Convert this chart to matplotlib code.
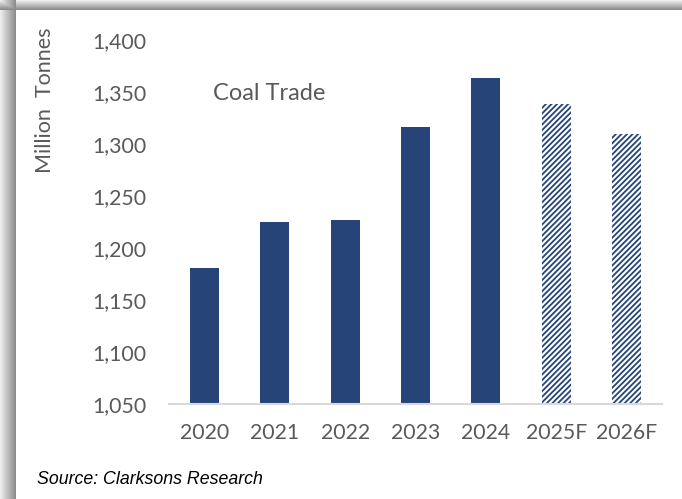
import matplotlib.pyplot as plt
import numpy as np

years = ['2020', '2021', '2022', '2023', '2024', '2025F', '2026F']
trade = [1181, 1225, 1227, 1316, 1363, 1338, 1310]
is_forecast = [False, False, False, False, False, True, True]
yticks = [1050, 1100, 1150, 1200, 1250, 1300, 1350, 1400]

navy = '#264478'
grey_txt = '#595959'

plt.rcParams['font.family'] = ['Lato', 'DejaVu Sans']
plt.rcParams['hatch.linewidth'] = 1.3

W, H = 682, 499
fig = plt.figure(figsize=(W / 100, H / 100), dpi=100)

# shadowed frame behind the chart panel
bg = fig.add_axes([0, 0, 1, 1])
xx, yy = np.meshgrid(np.arange(W), np.arange(H))
left = np.where(xx < 16, 0.93 - 0.38 * (xx / 15.0), 1.0)
top = np.where(yy < 10, 0.93 - 0.38 * (yy / 9.0), 1.0)
shade = np.minimum(left, top)
shade[(xx >= 16) & (yy >= 10)] = 1.0
bg.imshow(shade, cmap='gray', vmin=0, vmax=1, aspect='auto', interpolation='nearest')
bg.axis('off')

ax = fig.add_axes([169 / W, (H - 404) / H, (662 - 169) / W, (404 - 40) / H])
x = np.arange(len(years))
for xi, v, fc in zip(x, trade, is_forecast):
    if fc:
        ax.bar(xi, v - 1050, bottom=1050, width=0.41, color='white',
               edgecolor=navy, hatch='//////', linewidth=0, zorder=2)
    else:
        ax.bar(xi, v - 1050, bottom=1050, width=0.41, color=navy, zorder=2)

ax.set_xlim(-0.5, len(years) - 0.5)
ax.set_ylim(1050, 1400)
ax.set_xticks(x)
ax.set_xticklabels(years, fontsize=15.3, color=grey_txt)
ax.set_yticks(yticks)
ax.set_yticklabels([f'{t:,}' for t in yticks], fontsize=15.3, color=grey_txt)
ax.tick_params(length=0)
ax.tick_params(axis='x', pad=14)
ax.tick_params(axis='y', pad=16.5)
for s in ['top', 'right', 'left']:
    ax.spines[s].set_visible(False)
ax.spines['bottom'].set_color('#d9d9d9')
ax.spines['bottom'].set_linewidth(1.5)
ax.patch.set_alpha(0)

fig.text(45 / W, 1 - 100 / H, 'Million  Tonnes', rotation=90, fontsize=15.5,
         color=grey_txt, ha='center', va='center')
fig.text(213 / W, 1 - 93 / H, 'Coal Trade', fontsize=17, color=grey_txt,
         ha='left', va='center')
fig.text(37 / W, 1 - 480 / H, 'Source: Clarksons Research', fontsize=12.8,
         style='italic', color='black', ha='left', va='center',
         family=['Liberation Sans', 'DejaVu Sans'])

fig.savefig('out.png', dpi=100)
